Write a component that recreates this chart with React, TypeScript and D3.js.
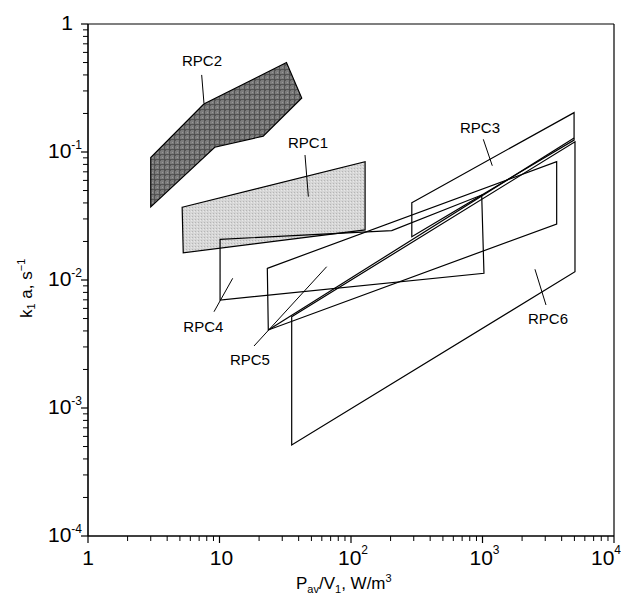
import React from "react";
import * as d3 from "d3";

const W = 621;
const H = 595;

// Axis decades
const xDecades = [1, 10, 100, 1000, 10000];
const yDecades = [1e-4, 1e-3, 1e-2, 1e-1, 1];
const xTickExp = [0, 1, 2, 3, 4];
const yTickExp = [-4, -3, -2, -1, 0];

// Region polygons [P/V (W/m3), k1a (1/s)]
const rpc1: [number, number][] = [[5.2, 0.037], [128, 0.084], [128, 0.0246], [5.3, 0.0163]];
const rpc2: [number, number][] = [[3.0, 0.0372], [3.0, 0.0906], [7.6, 0.237], [32.3, 0.5], [42.2, 0.264], [21.5, 0.133], [9.2, 0.109]];
const rpc3: [number, number][] = [[290, 0.0402], [4970, 0.203], [4970, 0.124], [290, 0.0218]];
const rpc4: [number, number][] = [[10.1, 0.0208], [204, 0.0243], [986, 0.0461], [1026, 0.01128], [10.1, 0.00698]];
const rpc5: [number, number][] = [[23.1, 0.01234], [3665, 0.084], [3665, 0.0274], [23.5, 0.00407]];
const rpc5Edge: [number, number][] = [[23.5, 0.00407], [4970, 0.1286]];
const rpc6: [number, number][] = [[35.4, 0.00517], [5050, 0.1203], [5050, 0.0116], [35.4, 0.000514]];

// Labels: text anchor (start, baseline) and leader line endpoints, in data units
const labelNames = ["RPC1", "RPC2", "RPC3", "RPC4", "RPC5", "RPC6"];
const labelPos: [number, number][] = [[33.2, 0.1075], [5.19, 0.47], [674, 0.1407], [5.31, 0.00394], [12.0, 0.00217], [2218, 0.00453]];
const leaderFrom: [number, number][] = [[44.7, 0.0947], [7.32, 0.4], [1014, 0.1257], [9.08, 0.00565], [18.3, 0.00305], [2506, 0.01213]];
const leaderTo: [number, number][] = [[47.4, 0.0448], [7.62, 0.24], [1187, 0.0781], [12.6, 0.01031], [65.3, 0.0127], [3040, 0.00638]];

const FONT = "'Liberation Sans', Arial, Helvetica, sans-serif";

export default function App() {
  const x = d3.scaleLog().domain([1, 1e4]).range([88, 614]);
  const y = d3.scaleLog().domain([1e-4, 1]).range([536, 24]);
  const line = d3.line<[number, number]>().x((d) => x(d[0])).y((d) => y(d[1]));
  const poly = (pts: [number, number][]) => line(pts) + "Z";

  const xMinor: number[] = [];
  for (let e = 0; e < 4; e++) for (let k = 2; k <= 9; k++) xMinor.push(k * Math.pow(10, e));
  const yMinor: number[] = [];
  for (let e = -4; e < 0; e++) for (let k = 2; k <= 9; k++) yMinor.push(k * Math.pow(10, e));

  return (
    <svg width={W} height={H} style={{ position: "absolute", left: 0, top: 0, background: "#fff" }} fontFamily={FONT}>
      <defs>
        <pattern id="hatchDark" width="5" height="5" patternUnits="userSpaceOnUse">
          <rect width="5" height="5" fill="#7c7c7c" />
          <rect x="0" y="0" width="1" height="1" fill="#555" />
          <rect x="2" y="2" width="1" height="1" fill="#999" />
          <path d="M0 4.5 H5 M4.5 0 V5" stroke="#4a4a4a" strokeWidth="0.8" />
        </pattern>
        <pattern id="stipple" width="3" height="3" patternUnits="userSpaceOnUse">
          <rect width="3" height="3" fill="#d6d6d6" />
          <rect x="0" y="0" width="1" height="1" fill="#b5b5b5" />
          <rect x="2" y="1" width="1" height="1" fill="#e8e8e8" />
        </pattern>
      </defs>

      {/* frame */}
      <line x1={88} x2={614} y1={24} y2={24} stroke="#000" strokeWidth={1.2} />
      <line x1={614} x2={614} y1={24} y2={536} stroke="#000" strokeWidth={1.2} />
      <line x1={88} x2={88} y1={24} y2={536} stroke="#000" strokeWidth={1.6} />
      <line x1={88} x2={614} y1={536} y2={536} stroke="#000" strokeWidth={1.6} />

      {/* y ticks */}
      {yDecades.map((v, i) => (
        <line key={"ym" + i} x1={81} x2={88} y1={y(v)} y2={y(v)} stroke="#000" strokeWidth={1.2} />
      ))}
      {yMinor.map((v, i) => (
        <line key={"yn" + i} x1={83} x2={88} y1={y(v)} y2={y(v)} stroke="#000" strokeWidth={1} />
      ))}
      {/* x ticks */}
      {xDecades.map((v, i) => (
        <line key={"xm" + i} x1={x(v)} x2={x(v)} y1={536} y2={543} stroke="#000" strokeWidth={1.2} />
      ))}
      {xMinor.map((v, i) => (
        <line key={"xn" + i} x1={x(v)} x2={x(v)} y1={536} y2={541} stroke="#000" strokeWidth={1} />
      ))}

      {/* y tick labels */}
      {yDecades.map((v, i) =>
        yTickExp[i] === 0 ? (
          <text key={"yl" + i} x={73} y={y(v) + 6} fontSize={21} textAnchor="end">1</text>
        ) : (
          <text key={"yl" + i} x={48} y={y(v) + 6} fontSize={21}>
            10<tspan fontSize={12} dy={-9}>{yTickExp[i]}</tspan>
          </text>
        )
      )}
      {/* x tick labels */}
      {xDecades.map((v, i) =>
        xTickExp[i] === 0 ? (
          <text key={"xl" + i} x={x(v)} y={565} fontSize={21} textAnchor="middle">1</text>
        ) : xTickExp[i] === 1 ? (
          <text key={"xl" + i} x={x(v) + 2} y={565} fontSize={21} textAnchor="middle">10</text>
        ) : (
          <text key={"xl" + i} x={Math.min(x(v) + 2, 606)} y={565} fontSize={21} textAnchor="middle">
            10<tspan fontSize={12} dy={-11}>{xTickExp[i]}</tspan>
          </text>
        )
      )}

      {/* axis titles */}
      <text x={296} y={589} fontSize={17}>
        P<tspan fontSize={11} dy={4}>av</tspan>
        <tspan dy={-4}>/V</tspan>
        <tspan fontSize={11} dy={4}>1</tspan>
        <tspan dy={-4}>, W/m</tspan>
        <tspan fontSize={11} dy={-7}>3</tspan>
      </text>
      <text transform="translate(32,318) rotate(-90)" fontSize={17}>
        k<tspan fontSize={11} dy={3}>1</tspan>
        <tspan dy={-3}> a, s</tspan>
        <tspan fontSize={11} dy={-7}>−1</tspan>
      </text>

      {/* filled regions */}
      <path d={poly(rpc1)} fill="url(#stipple)" stroke="#000" strokeWidth={1.2} />
      <path d={poly(rpc2)} fill="url(#hatchDark)" stroke="#000" strokeWidth={1.2} />

      {/* outlined regions */}
      {[rpc3, rpc4, rpc5, rpc6].map((p, i) => (
        <path key={"p" + i} d={poly(p)} fill="none" stroke="#000" strokeWidth={1.2} />
      ))}
      <path d={line(rpc5Edge) || ""} fill="none" stroke="#000" strokeWidth={1.2} />

      {/* labels */}
      {labelNames.map((n, i) => (
        <g key={n}>
          <line x1={x(leaderFrom[i][0])} y1={y(leaderFrom[i][1])} x2={x(leaderTo[i][0])} y2={y(leaderTo[i][1])} stroke="#000" strokeWidth={1} />
          <text x={x(labelPos[i][0])} y={y(labelPos[i][1])} fontSize={15}>{n}</text>
        </g>
      ))}
    </svg>
  );
}
